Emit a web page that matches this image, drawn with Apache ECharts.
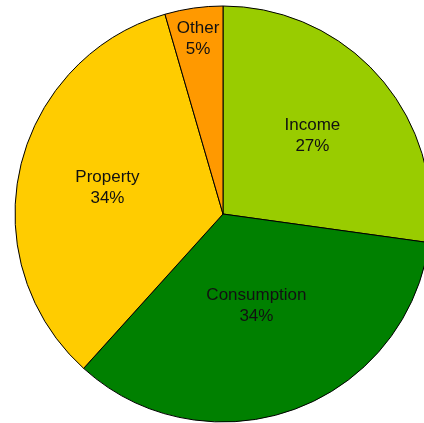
<!DOCTYPE html>
<html>
<head>
<meta charset="utf-8">
<script src="https://cdn.jsdelivr.net/npm/echarts@6/dist/echarts.min.js"></script>
<style>
  html, body { margin: 0; padding: 0; background: #fff; }
  #chart { width: 424px; height: 423px; }
</style>
</head>
<body>
<div id="chart"></div>
<script>
// slices, clockwise from 12 o'clock
const categories = ['Income', 'Consumption', 'Property', 'Other'];
const shares = [27.2, 34.49, 33.81, 4.5];
const colors = ['#99CC00', '#008000', '#FFCC00', '#FF9900'];
// how far out each label sits, as a fraction of the radius
const labelReach = [0.57, 0.47, 0.57, 0.85];

const chart = echarts.init(document.getElementById('chart'));
const cx = 223, cy = 214, r = 208;

chart.setOption({
  animation: false,
  series: [{
    type: 'pie',
    center: [cx, cy],
    radius: [0, r],
    startAngle: 90,
    clockwise: true,
    avoidLabelOverlap: false,
    itemStyle: { borderColor: '#000', borderWidth: 1 },
    label: {
      show: true,
      position: 'inside',
      color: '#111',
      fontFamily: 'Liberation Sans, Arial, sans-serif',
      fontSize: 17,
      lineHeight: 21,
      formatter: p => p.name + '\n' + Math.round(p.value) + '%'
    },
    labelLine: { show: false },
    labelLayout: function (params) {
      const rect = params.labelRect;
      const lx = rect.x + rect.width / 2, ly = rect.y + rect.height / 2;
      const dx = lx - cx, dy = ly - cy;
      const d = Math.sqrt(dx * dx + dy * dy) || 1;
      const want = labelReach[params.dataIndex] * r;
      return { dx: dx / d * (want - d), dy: dy / d * (want - d) };
    },
    data: categories.map((name, i) => ({
      name: name,
      value: shares[i],
      itemStyle: { color: colors[i] }
    }))
  }]
});
</script>
</body>
</html>
